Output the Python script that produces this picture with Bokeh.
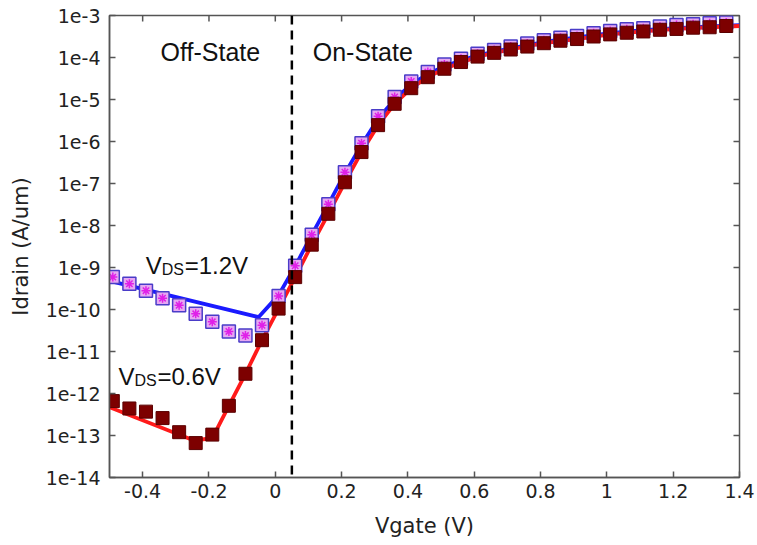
import math
from bokeh.plotting import figure
from bokeh.models import Range1d, FixedTicker, Span, Label, CustomJSTickFormatter
from bokeh.embed import file_html
from bokeh.resources import INLINE

# ---------------- data ----------------
vgate_pts = [-0.49, -0.44, -0.39, -0.34, -0.29, -0.24, -0.19, -0.14, -0.09, -0.04,
             0.01, 0.06, 0.11, 0.16, 0.21, 0.26, 0.31, 0.36, 0.41, 0.46,
             0.51, 0.56, 0.61, 0.66, 0.71, 0.76, 0.81, 0.86, 0.91, 0.96,
             1.01, 1.06, 1.11, 1.16, 1.21, 1.26, 1.31, 1.36]

id_pts_12 = [5.9e-10, 4.1e-10, 2.8e-10, 1.86e-10, 1.26e-10, 7.9e-11, 5.1e-11, 3.0e-11, 2.4e-11, 4.2e-11,
             2.1e-10, 1.1e-9, 6.0e-9, 3.2e-8, 1.86e-7, 9.1e-7, 4.0e-6, 1.15e-5, 2.7e-5, 4.5e-5,
             6.8e-5, 9.3e-5, 1.23e-4, 1.51e-4, 1.82e-4, 2.14e-4, 2.57e-4, 2.95e-4, 3.24e-4, 3.8e-4,
             4.27e-4, 4.68e-4, 5.0e-4, 5.5e-4, 5.9e-4, 6.2e-4, 6.5e-4, 6.8e-4]

id_pts_06 = [6.6e-13, 4.4e-13, 3.7e-13, 2.6e-13, 1.2e-13, 6.6e-14, 1.05e-13, 5.1e-13, 2.95e-12, 1.86e-11,
             1.05e-10, 5.9e-10, 3.5e-9, 1.9e-8, 1.07e-7, 5.6e-7, 2.45e-6, 7.9e-6, 1.86e-5, 3.4e-5,
             5.4e-5, 7.8e-5, 1.05e-4, 1.29e-4, 1.55e-4, 1.82e-4, 2.19e-4, 2.51e-4, 2.75e-4, 3.16e-4,
             3.55e-4, 3.89e-4, 4.17e-4, 4.57e-4, 4.79e-4, 5.13e-4, 5.25e-4, 5.62e-4]

vgate_line_12 = [-0.5, -0.05, 0.01, 0.06, 0.11, 0.16, 0.21, 0.26, 0.31, 0.36, 0.41, 0.46,
                 0.51, 0.56, 0.61, 0.71, 0.81, 0.91, 1.01, 1.11, 1.21, 1.31, 1.4]
id_line_12 = [4.8e-10, 6.6e-11, 2.2e-10, 1.07e-9, 6.0e-9, 3.2e-8, 1.74e-7, 8.3e-7, 3.5e-6, 1.0e-5, 2.3e-5, 4.0e-5,
              6.2e-5, 8.5e-5, 1.12e-4, 1.66e-4, 2.34e-4, 3.0e-4, 3.8e-4, 4.47e-4, 5.0e-4, 5.5e-4, 5.9e-4]

vgate_line_06 = [-0.5, -0.245, -0.19, -0.14, -0.09, -0.04, 0.01, 0.06, 0.11, 0.16, 0.21, 0.26, 0.31,
                 0.36, 0.41, 0.46, 0.51, 0.61, 0.71, 0.81, 0.91, 1.01, 1.11, 1.21, 1.31, 1.4]
id_line_06 = [4.7e-13, 7.6e-14, 8.7e-14, 5.1e-13, 2.95e-12, 1.86e-11, 1.05e-10, 5.9e-10, 3.5e-9, 1.9e-8, 1.07e-7,
              5.6e-7, 2.45e-6, 7.9e-6, 1.86e-5, 3.4e-5, 5.4e-5, 1.05e-4, 1.55e-4, 2.19e-4, 2.75e-4,
              3.55e-4, 4.17e-4, 4.79e-4, 5.25e-4, 5.62e-4]

xticks = [-0.4, -0.2, 0, 0.2, 0.4, 0.6, 0.8, 1, 1.2, 1.4]
xtick_labels = ["-0.4", "-0.2", "0", "0.2", "0.4", "0.6", "0.8", "1", "1.2", "1.4"]
yticks = [1e-14, 1e-13, 1e-12, 1e-11, 1e-10, 1e-9, 1e-8, 1e-7, 1e-6, 1e-5, 1e-4, 1e-3]
ytick_labels = ["1e-14", "1e-13", "1e-12", "1e-11", "1e-10", "1e-9", "1e-8", "1e-7",
                "1e-6", "1e-5", "1e-4", "1e-3"]
x_lo, x_hi = -0.5, 1.4
y_lo, y_hi = 1e-14, 1e-3
threshold_v = 0.05

TICK_FONT = "DejaVu Sans"
ANN_FONT = "Liberation Sans"
AX_COLOR = "#555555"
TXT_COLOR = "#222222"

p = figure(width=755, height=543, x_range=Range1d(x_lo, x_hi), y_range=Range1d(y_lo, y_hi),
           y_axis_type="log", output_backend="svg", toolbar_location=None,
           min_border_left=109, min_border_right=16, min_border_top=15, min_border_bottom=66,
           background_fill_color="white", border_fill_color="white")
p.xgrid.visible = False
p.ygrid.visible = False
p.outline_line_color = AX_COLOR
p.outline_line_width = 1.5

xfmt = CustomJSTickFormatter(args=dict(tv=xticks, labels=xtick_labels), code="""
let b = 0, d = 1e9;
for (let i = 0; i < tv.length; i++) { const e = Math.abs(tv[i] - tick); if (e < d) { d = e; b = i; } }
return labels[b];
""")
yfmt = CustomJSTickFormatter(args=dict(tv=yticks, labels=ytick_labels), code="""
let b = 0, d = 1e9;
for (let i = 0; i < tv.length; i++) { const e = Math.abs(Math.log10(tv[i]) - Math.log10(tick)); if (e < d) { d = e; b = i; } }
return labels[b];
""")

for ax in (p.xaxis[0], p.yaxis[0]):
    ax.axis_line_color = AX_COLOR
    ax.axis_line_width = 1.5
    ax.major_tick_line_color = AX_COLOR
    ax.major_tick_line_width = 1.5
    ax.major_tick_in = 6
    ax.major_tick_out = 0
    ax.minor_tick_line_color = None
    ax.major_label_text_font = TICK_FONT
    ax.major_label_text_font_size = "19px"
    ax.major_label_text_color = TXT_COLOR
    ax.axis_label_text_font = TICK_FONT
    ax.axis_label_text_font_size = "21px"
    ax.axis_label_text_font_style = "normal"
    ax.axis_label_text_color = TXT_COLOR

p.xaxis.ticker = FixedTicker(ticks=xticks)
p.xaxis.formatter = xfmt
p.xaxis.axis_label = "Vgate (V)"
p.xaxis.major_label_standoff = 6
p.xaxis.axis_label_standoff = 13

p.yaxis.ticker = FixedTicker(ticks=yticks)
p.yaxis.formatter = yfmt
p.yaxis.axis_label = "Idrain (A/um)"
p.yaxis.major_label_standoff = 9
p.yaxis.axis_label_standoff = 10

# mirrored inward ticks on the top and right frame edges (clipped to the frame)
p.scatter(xticks, [y_hi] * len(xticks), marker="dash", size=12, angle=math.pi / 2,
          line_color=AX_COLOR, line_width=1.5)
p.scatter([x_hi] * len(yticks), yticks, marker="dash", size=12,
          line_color=AX_COLOR, line_width=1.5)

# curves
p.line(vgate_line_12, id_line_12, line_color="#1a1aff", line_width=3.8)
p.line(vgate_line_06, id_line_06, line_color="#ff1a1a", line_width=3.8)

# markers
p.scatter(vgate_pts, id_pts_12, marker="square", size=13, fill_color="#e6a8f2",
          line_color="#4a3cc8", line_width=1.5)
p.scatter(vgate_pts, id_pts_12, marker="asterisk", size=9, line_color="#e020e8", line_width=1.5)
p.scatter(vgate_pts, id_pts_06, marker="square", size=13, fill_color="#7d0000",
          line_color="#5a0000", line_width=1)

# threshold line
p.add_layout(Span(location=threshold_v, dimension="height", line_color="black",
                  line_width=2.5, line_dash="9 6"))

# annotations
def lab(text, x, y, size="24px", xo=0, yo=0):
    p.add_layout(Label(x=x, y=y, text=text, text_font=ANN_FONT, text_font_size=size,
                       text_color="#111111", x_offset=xo, y_offset=yo,
                       text_baseline="alphabetic"))

lab("Off-State", -0.346, 1.32e-4, size="25px")
lab("On-State", 0.113, 1.32e-4, size="25px")
lab("V", -0.391, 1.12e-9)
lab("DS", -0.391, 1.12e-9, size="16px", xo=16, yo=-4)
lab("=1.2V", -0.391, 1.12e-9, xo=39)
lab("V", -0.473, 2.54e-12)
lab("DS", -0.473, 2.54e-12, size="16px", xo=16, yo=-4)
lab("=0.6V", -0.473, 2.54e-12, xo=39)

open("out.html", "w").write(file_html(p, INLINE))
